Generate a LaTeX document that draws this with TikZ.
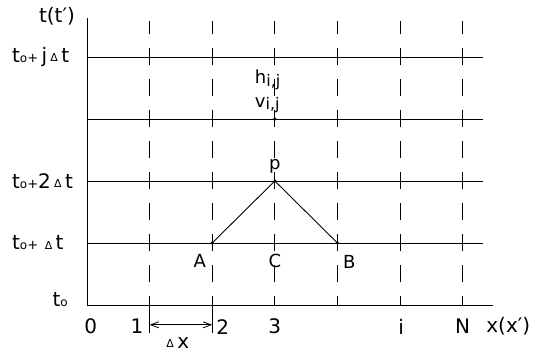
\documentclass[tikz,border=0pt]{standalone}
\usepackage{fontspec}
\setmainfont{DejaVu Sans}
\usetikzlibrary{arrows.meta,positioning}
\tikzset{%
  gridline/.style={line width=0.9pt},
  dashline/.style={line width=0.9pt, dash pattern=on 17pt off 14pt, dash phase=8.5pt},
  lbl/.style={inner sep=0pt, font=\fontsize{20}{24}\selectfont},
  ptlbl/.style={inner sep=0pt, font=\fontsize{18}{22}\selectfont},
  dot/.style={circle, fill, inner sep=0pt, minimum size=3.5pt},
  arrow/.style={{Straight Barb[length=8pt,width=6pt]}-{Straight Barb[length=8pt,width=6pt]}, line width=0.8pt}
}
\newcommand{\dlt}{\raisebox{0.5pt}{\fontsize{11}{11}\selectfont Δ}}
\newcommand{\tnull}{t\raisebox{0pt}{\fontsize{12}{12}\selectfont o}}
\newcommand{\idxij}{\raisebox{-2.5pt}{\fontsize{16}{16}\selectfont i,j}}

\begin{document}
\begin{tikzpicture}[x=62.6pt, y=62pt]
\useasboundingbox (-1.39,-0.758) rectangle (7.348,4.919);

% axes
\draw[gridline] (0,4.63) -- (0,0) -- (6.49,0);

% time levels
\draw[gridline] (0,1) -- (6.33,1);
\draw[gridline] (0,2) -- (6.33,2);
\draw[gridline] (0,3) -- (6.33,3);
\draw[gridline] (0,4) -- (6.33,4);

% space grid (dashed)
\draw[dashline] (1,0) -- (1,4.58);
\draw[dashline] (2,0) -- (2,4.58);
\draw[dashline] (3,0) -- (3,4.58);
\draw[dashline] (4,0) -- (4,4.58);
\draw[dashline] (5,0) -- (5,4.58);
\draw[dashline] (6,0) -- (6,4.58);
\draw[gridline] (1,0) -- (1,-0.45);
\draw[gridline] (2,0) -- (2,-0.45);

% axis labels
\node[lbl] (tlab) at (-0.48,4.66) {t(t′)};
\node[lbl, anchor=west] (tj) at (-1.2,4) {\tnull{\fontsize{13}{13}\selectfont+}\,j\,\dlt\,t};
\node[lbl, anchor=west] (t2) at (-1.2,2) {\tnull{\fontsize{13}{13}\selectfont+}2\,\dlt\,t};
\node[lbl, anchor=west] (t1) at (-1.2,1) {\tnull{\fontsize{13}{13}\selectfont+}\,\,\dlt\,t};
\node[lbl] (t0) at (-0.43,0.08) {\tnull};
\node[lbl] (x0) at (0.06,-0.35) {0};
\node[lbl] (x1) at (0.8,-0.35) {1};
\node[lbl] (x2) at (2.17,-0.35) {2};
\node[lbl] (x3) at (3,-0.35) {3};
\node[lbl] (xi) at (5.02,-0.35) {i};
\node[lbl] (xN) at (6,-0.35) {N};
\node[lbl] (xlab) at (6.73,-0.35) {x(x′)};

% characteristics through p
\node[dot] (A) at (2,1) {};
\node[dot] (p) at (3,2) {};
\node[dot] (B) at (4,1) {};
\node[dot] (vij) at (3,3) {};
\draw[gridline] (A.center) -- (p.center) -- (B.center);
\node[ptlbl] (Alab) at (1.8,0.71) {A};
\node[ptlbl] (Clab) at (3,0.71) {C};
\node[ptlbl] (Blab) at (4.19,0.7) {B};
\node[ptlbl] (plab) at (3,2.24) {p};
\node[ptlbl, anchor=base west] (hlab) at (2.68,3.565) {h\idxij};
\node[ptlbl, anchor=base west] (vlab) at (2.68,3.19) {v\idxij};

% mesh width
\coordinate (dxl) at (1,-0.32);
\coordinate (dxr) at (2,-0.32);
\draw[arrow] (dxl) -- (dxr);
\node[lbl] (dx) at (1.45,-0.61) {\dlt\,x};

\end{tikzpicture}
\end{document}
